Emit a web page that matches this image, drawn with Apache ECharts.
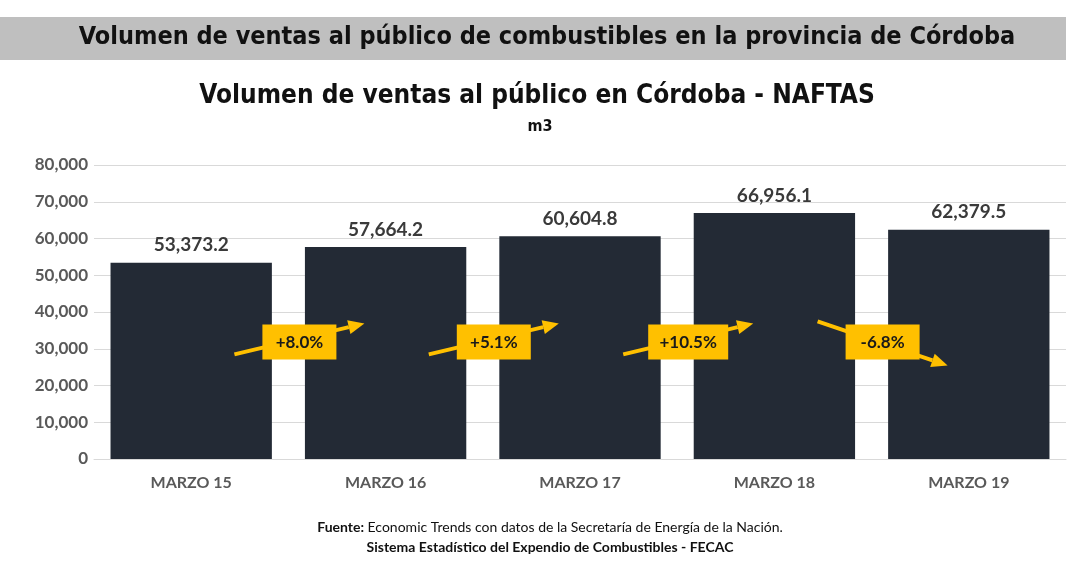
<!DOCTYPE html>
<html>
<head>
<meta charset="utf-8">
<script src="https://cdn.jsdelivr.net/npm/echarts@6/dist/echarts.min.js"></script>
<style>
  html, body { margin: 0; padding: 0; background: #fff; }
  #chart { width: 1080px; height: 571px; }
</style>
</head>
<body>
<div id="chart"></div>
<script>
// datos del gráfico
var categorias = ['MARZO 15', 'MARZO 16', 'MARZO 17', 'MARZO 18', 'MARZO 19'];
var volumen = [53373.2, 57664.2, 60604.8, 66956.1, 62379.5];
var variaciones = [8.0, 5.1, 10.5, -6.8];
var yTicks = [0, 10000, 20000, 30000, 40000, 50000, 60000, 70000, 80000];

var narrow = '"DejaVu Sans Condensed", "Liberation Sans Narrow", sans-serif';
var sans = 'Lato, "Open Sans", sans-serif';
var amarillo = '#FFC000';

function fmtMiles(v, dec) {
  return v.toLocaleString('en-US', { minimumFractionDigits: dec, maximumFractionDigits: dec });
}

var myChart = echarts.init(document.getElementById('chart'));

// flechas entre barras, posicionadas con las escalas del eje
function renderFlecha(params, api) {
  var i = api.value(0);
  var pct = variaciones[i];
  var a = api.coord([i, 32000]);
  var b = api.coord([i + 1, 32000]);
  var mid = (a[0] + b[0]) / 2;
  var cy = a[1];
  var up = pct >= 0;
  var x1 = mid - 54, x2 = mid + 76;
  var y1 = up ? cy + 13 : cy - 20;
  var y2 = up ? cy - 18 : cy + 24;
  var ang = Math.atan2(y2 - y1, x2 - x1);
  var hl = 16, hw = 7;
  var bx = x2 - hl * Math.cos(ang), by = y2 - hl * Math.sin(ang);
  var px = -Math.sin(ang) * hw, py = Math.cos(ang) * hw;
  var texto = (up ? '+' : '') + pct.toFixed(1) + '%';
  var w = texto.length > 5 ? 80 : 74;
  return {
    type: 'group',
    children: [
      { type: 'line', shape: { x1: x1, y1: y1, x2: bx, y2: by }, style: { stroke: amarillo, lineWidth: 4 } },
      { type: 'polygon', shape: { points: [[x2, y2], [bx + px, by + py], [bx - px, by - py]] }, style: { fill: amarillo } },
      { type: 'rect', shape: { x: mid + 11 - w / 2, y: cy - 17, width: w, height: 35 }, style: { fill: amarillo } },
      { type: 'text', x: mid + 11, y: cy + 1, style: { text: texto, fill: '#1a1a1a', font: 'bold 17px ' + sans, align: 'center', verticalAlign: 'middle' } }
    ]
  };
}

var option = {
  animation: false,
  graphic: [
    { type: 'rect', left: 0, top: 17, shape: { width: 1066, height: 43 }, style: { fill: '#bfbfbf' } },
    { type: 'text', x: 547, y: 25, style: { text: 'Volumen de ventas al público de combustibles en la provincia de Córdoba', fill: '#111', font: 'bold 25px ' + narrow, align: 'center' } },
    { type: 'text', x: 537, y: 83, style: { text: 'Volumen de ventas al público en Córdoba - NAFTAS', fill: '#111', font: 'bold 26px ' + narrow, align: 'center' } },
    { type: 'text', left: 'center', top: 119, style: { text: 'm3', fill: '#111', font: 'bold 16px ' + narrow } },
    { type: 'text', x: 550, y: 520, style: { text: '{b|Fuente:} Economic Trends con datos de la Secretaría de Energía de la Nación.', font: '14px ' + sans, fill: '#111', align: 'center',
        rich: { b: { fontWeight: 'bold', fontSize: 14, fontFamily: sans, fill: '#111' } } } },
    { type: 'text', x: 550, y: 540, style: { text: 'Sistema Estadístico del Expendio de Combustibles - FECAC', font: 'bold 14px ' + sans, fill: '#111', align: 'center' } }
  ],
  grid: { left: 94, right: 14, top: 165, bottom: 112 },
  xAxis: {
    type: 'category',
    data: categorias,
    axisLine: { lineStyle: { color: '#d9d9d9' } },
    axisTick: { show: false },
    axisLabel: { color: '#595959', fontWeight: 'bold', fontSize: 16, fontFamily: sans, margin: 16 }
  },
  yAxis: {
    type: 'value',
    min: yTicks[0],
    max: yTicks[yTicks.length - 1],
    interval: yTicks[1] - yTicks[0],
    axisLine: { show: false },
    axisTick: { show: false },
    splitLine: { lineStyle: { color: '#d9d9d9' } },
    axisLabel: { color: '#595959', fontWeight: 'bold', fontSize: 17, fontFamily: sans, margin: 6, formatter: function (v) { return fmtMiles(v, 0); } }
  },
  series: [
    {
      type: 'bar',
      data: volumen,
      barCategoryGap: '17%',
      itemStyle: { color: '#232a35' },
      label: { show: true, position: 'top', distance: 8, color: '#3a3a3a', fontWeight: 'bold', fontSize: 19, fontFamily: sans, formatter: function (p) { return fmtMiles(p.value, 1); } }
    },
    {
      type: 'custom',
      renderItem: renderFlecha,
      data: variaciones.map(function (v, i) { return [i, v]; }),
      z: 10
    }
  ]
};
myChart.setOption(option);
</script>
</body>
</html>
